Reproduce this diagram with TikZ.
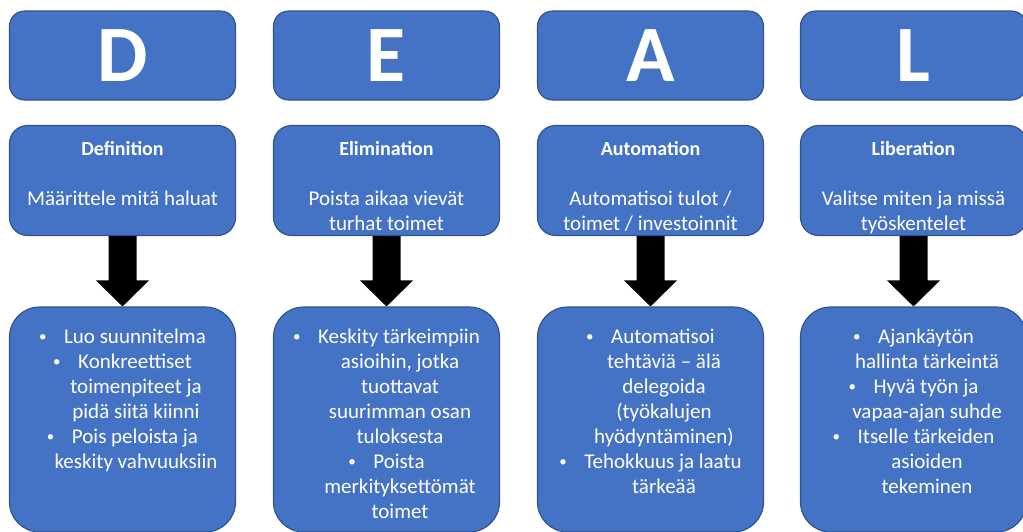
\documentclass[tikz,border=0pt]{standalone}
\usepackage{fontspec}
\setmainfont{Carlito}
\usetikzlibrary{calc}
\definecolor{boxfill}{HTML}{4472C4}
\definecolor{boxline}{HTML}{2F528F}
% bullet line and continuation line of a centred bullet list
\newcommand{\bul}[1]{\makebox[25pt][l]{\raisebox{1.5pt}{\fontsize{15}{15}\selectfont\textbullet}}#1}
\newcommand{\cont}[1]{\hspace*{27pt}#1}
\newcommand{\lines}[1]{\begin{tabular}[t]{@{}c@{}}#1\end{tabular}}
\begin{document}
\begin{tikzpicture}[x=1pt,y=-1pt,
  basebox/.style={draw=boxline, fill=boxfill, line width=1.1pt,
    minimum width=226pt, inner sep=0pt, text=white},
  letterbox/.style={basebox, rounded corners=15pt, minimum height=89pt,
    font=\fontsize{80}{80}\selectfont\bfseries},
  midbox/.style={basebox, rounded corners=18pt, minimum height=110pt},
  listbox/.style={basebox, rounded corners=30pt, minimum height=225pt},
  boxtext/.style={anchor=base, inner sep=0pt, text=white,
    font=\fontsize{21}{25}\selectfont},
  blockarrow/.style={fill=black}]
\useasboundingbox (0,0) rectangle (1023,531);

% letter boxes
\node[letterbox] (l1) at (122.5,55.5) {D};
\node[letterbox] (l2) at (386.5,55.5) {E};
\node[letterbox] (l3) at (650.5,55.5) {A};
\node[letterbox] (l4) at (913.5,55.5) {L};

% definition boxes
\node[midbox] (m1) at (122.5,180.5) {};
\node[midbox] (m2) at (386.5,180.5) {};
\node[midbox] (m3) at (650.5,180.5) {};
\node[midbox] (m4) at (913.5,180.5) {};

\node[boxtext] (t1) at (m1.center |- 0,155) {\lines{{\fontsize{20}{25}\selectfont\bfseries Definition}\\ \\ Määrittele mitä haluat}};
\node[boxtext] (t2) at (m2.center |- 0,155) {\lines{{\fontsize{20}{25}\selectfont\bfseries Elimination}\\ \\ Poista aikaa vievät\\ turhat toimet}};
\node[boxtext] (t3) at (m3.center |- 0,155) {\lines{{\fontsize{20}{25}\selectfont\bfseries Automation}\\ \\ Automatisoi tulot /\\ toimet / investoinnit}};
\node[boxtext] (t4) at (m4.center |- 0,155) {\lines{{\fontsize{20}{25}\selectfont\bfseries Liberation}\\ \\ Valitse miten ja missä\\ työskentelet}};

% action boxes
\node[listbox] (b1) at (122.5,419.5) {};
\node[listbox] (b2) at (386.5,419.5) {};
\node[listbox] (b3) at (650.5,419.5) {};
\node[listbox] (b4) at (913.5,419.5) {};

\node[boxtext] (s1) at (b1.center |- 0,343) {\lines{%
  \bul{Luo suunnitelma}\\
  \bul{Konkreettiset}\\
  \cont{toimenpiteet ja}\\
  \cont{pidä siitä kiinni}\\
  \bul{Pois peloista ja}\\
  \cont{keskity vahvuuksiin}}};
\node[boxtext] (s2) at (b2.center |- 0,343) {\lines{%
  \bul{Keskity tärkeimpiin}\\
  \cont{asioihin, jotka}\\
  \cont{tuottavat}\\
  \cont{suurimman osan}\\
  \cont{tuloksesta}\\
  \bul{Poista}\\
  \cont{merkityksettömät}\\
  \cont{toimet}}};
\node[boxtext] (s3) at (b3.center |- 0,343) {\lines{%
  \bul{Automatisoi}\\
  \cont{tehtäviä – älä}\\
  \cont{delegoida}\\
  \cont{(työkalujen}\\
  \cont{hyödyntäminen)}\\
  \bul{Tehokkuus ja laatu}\\
  \cont{tärkeää}}};
\node[boxtext] (s4) at (b4.center |- 0,343) {\lines{%
  \bul{Ajankäytön}\\
  \cont{hallinta tärkeintä}\\
  \bul{Hyvä työn ja}\\
  \cont{vapaa-ajan suhde}\\
  \bul{Itselle tärkeiden}\\
  \cont{asioiden}\\
  \cont{tekeminen}}};

% block arrows from each definition box to its action box
\foreach \i in {1,2,3,4}{
  \fill[blockarrow] ($(m\i.south)+(-14,0)$) -- ($(b\i.north)+(-14,-26)$)
    -- ($(b\i.north)+(-26.5,-26)$) -- (b\i.north)
    -- ($(b\i.north)+(26.5,-26)$) -- ($(b\i.north)+(14,-26)$)
    -- ($(m\i.south)+(14,0)$) -- cycle;
}
\end{tikzpicture}
\end{document}
